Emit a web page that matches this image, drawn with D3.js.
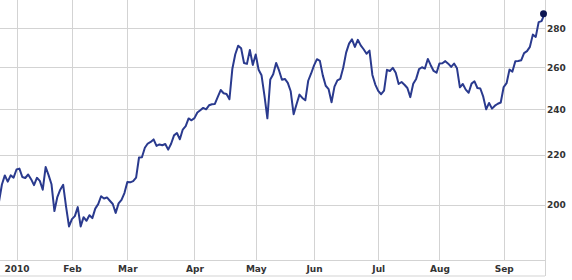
<!DOCTYPE html>
<html>
<head>
<meta charset="utf-8">
<script src="https://cdn.jsdelivr.net/npm/d3@7"></script>
<style>
  html, body { margin: 0; padding: 0; background: #fff; }
  svg { display: block; }
  text { font-family: "DejaVu Sans", Verdana, sans-serif; font-weight: bold; font-size: 9px; fill: #333; }
</style>
</head>
<body>
<div id="chart"></div>
<script>
// Trading days (Dec 2009 – Sep 2010)
const dates = [
  "2009-12-22","2009-12-23","2009-12-24","2009-12-28","2009-12-29","2009-12-30","2009-12-31",
  "2010-01-04","2010-01-05","2010-01-06","2010-01-07","2010-01-08","2010-01-11","2010-01-12","2010-01-13","2010-01-14","2010-01-15",
  "2010-01-19","2010-01-20","2010-01-21","2010-01-22","2010-01-25","2010-01-26","2010-01-27","2010-01-28","2010-01-29",
  "2010-02-01","2010-02-02","2010-02-03","2010-02-04","2010-02-05","2010-02-08","2010-02-09","2010-02-10","2010-02-11","2010-02-12",
  "2010-02-16","2010-02-17","2010-02-18","2010-02-19","2010-02-22","2010-02-23","2010-02-24","2010-02-25","2010-02-26",
  "2010-03-01","2010-03-02","2010-03-03","2010-03-04","2010-03-05","2010-03-08","2010-03-09","2010-03-10","2010-03-11","2010-03-12",
  "2010-03-15","2010-03-16","2010-03-17","2010-03-18","2010-03-19","2010-03-22","2010-03-23","2010-03-24","2010-03-25","2010-03-26",
  "2010-03-29","2010-03-30","2010-03-31",
  "2010-04-01","2010-04-05","2010-04-06","2010-04-07","2010-04-08","2010-04-09","2010-04-12","2010-04-13","2010-04-14","2010-04-15",
  "2010-04-16","2010-04-19","2010-04-20","2010-04-21","2010-04-22","2010-04-23","2010-04-26","2010-04-27","2010-04-28","2010-04-29","2010-04-30",
  "2010-05-03","2010-05-04","2010-05-05","2010-05-06","2010-05-07","2010-05-10","2010-05-11","2010-05-12","2010-05-13","2010-05-14",
  "2010-05-17","2010-05-18","2010-05-19","2010-05-20","2010-05-21","2010-05-24","2010-05-25","2010-05-26","2010-05-27","2010-05-28",
  "2010-06-01","2010-06-02","2010-06-03","2010-06-04","2010-06-07","2010-06-08","2010-06-09","2010-06-10","2010-06-11","2010-06-14",
  "2010-06-15","2010-06-16","2010-06-17","2010-06-18","2010-06-21","2010-06-22","2010-06-23","2010-06-24","2010-06-25","2010-06-28",
  "2010-06-29","2010-06-30",
  "2010-07-01","2010-07-02","2010-07-06","2010-07-07","2010-07-08","2010-07-09","2010-07-12","2010-07-13","2010-07-14","2010-07-15",
  "2010-07-16","2010-07-19","2010-07-20","2010-07-21","2010-07-22","2010-07-23","2010-07-26","2010-07-27","2010-07-28","2010-07-29","2010-07-30",
  "2010-08-02","2010-08-03","2010-08-04","2010-08-05","2010-08-06","2010-08-09","2010-08-10","2010-08-11","2010-08-12","2010-08-13",
  "2010-08-16","2010-08-17","2010-08-18","2010-08-19","2010-08-20","2010-08-23","2010-08-24","2010-08-25","2010-08-26","2010-08-27",
  "2010-08-30","2010-08-31",
  "2010-09-01","2010-09-02","2010-09-03","2010-09-07","2010-09-08","2010-09-09","2010-09-10","2010-09-13","2010-09-14","2010-09-15",
  "2010-09-16","2010-09-17","2010-09-20","2010-09-21","2010-09-22"
];

const closes = [
  200.36,201.29,208.00,211.61,209.10,211.64,210.73,
  214.01,214.38,210.97,210.58,211.98,210.11,207.72,210.65,209.43,205.93,
  215.04,211.73,208.07,197.75,203.08,205.94,207.88,199.29,192.06,
  194.73,195.86,199.23,192.05,195.46,194.12,196.19,195.12,198.67,200.38,
  203.40,202.55,202.93,201.67,200.42,197.06,200.66,202.00,204.62,
  208.99,208.85,209.33,210.71,218.95,219.08,223.02,224.84,225.50,226.60,
  223.84,224.45,224.12,224.65,222.25,224.75,228.36,229.37,226.65,230.90,
  232.39,235.84,235.00,
  235.97,238.49,239.54,240.60,239.95,241.79,242.29,242.43,245.69,248.92,
  247.40,247.07,244.59,259.22,266.47,270.83,269.50,262.04,261.60,268.64,261.09,
  266.35,258.68,255.98,246.25,235.86,253.99,256.52,262.09,258.36,253.82,
  254.22,252.36,248.34,237.76,242.32,246.76,245.22,244.11,253.35,256.88,
  260.83,263.95,263.12,255.96,250.94,249.33,243.20,250.51,253.51,254.28,
  259.69,267.25,271.87,274.07,270.17,273.85,270.97,269.00,266.70,268.30,
  256.17,251.53,
  248.48,246.94,248.63,258.66,258.09,259.62,257.28,251.80,252.73,251.45,
  249.90,245.58,251.89,254.24,259.02,259.94,259.28,264.08,260.96,258.11,257.25,
  261.85,261.93,262.98,261.70,260.09,261.75,259.41,250.19,251.79,249.10,
  247.64,251.97,253.07,249.88,249.64,245.80,239.93,242.89,240.28,241.62,
  242.50,243.10,
  250.33,252.17,258.77,257.81,262.92,263.07,263.41,267.04,268.06,270.22,
  276.57,275.37,283.23,283.77,287.75
];

const monthTickDates = ["2010-01-04","2010-02-01","2010-03-01","2010-04-01","2010-05-03","2010-06-01","2010-07-01","2010-08-02","2010-09-01"];
const monthLabels = ["2010","Feb","Mar","Apr","May","Jun","Jul","Aug","Sep"];
const yTicks = [200, 220, 240, 260, 280];

// ---- layout ----
const W = 572, H = 280;
const plotRight = 545, plotBottom = 260.5, bandBottom = 276;

const svg = d3.select("#chart").append("svg").attr("width", W).attr("height", H);
svg.append("rect").attr("width", W).attr("height", H).attr("fill", "#fff");

const idx = d => dates.indexOf(d);
const x = d3.scaleLinear()
  .domain([idx("2010-01-04"), idx("2010-09-22")])
  .range([16.5, 544.5]);
const y = d3.scaleLog()
  .domain([180, 295.4])
  .range([plotBottom, 0]);

const monthIdx = monthTickDates.map(idx);
const grid = "#d3d3d3";

// horizontal gridlines
svg.append("g").selectAll("line").data(yTicks).join("line")
  .attr("x1", 0).attr("x2", plotRight)
  .attr("y1", d => Math.round(y(d)) + 0.5).attr("y2", d => Math.round(y(d)) + 0.5)
  .attr("stroke", grid).attr("stroke-width", 1);

// vertical gridlines
svg.append("g").selectAll("line").data(monthIdx).join("line")
  .attr("x1", d => Math.round(x(d)) + 0.5).attr("x2", d => Math.round(x(d)) + 0.5)
  .attr("y1", 0).attr("y2", plotBottom)
  .attr("stroke", grid).attr("stroke-width", 1);

// axis band borders
svg.append("line").attr("x1", 0).attr("x2", plotRight).attr("y1", plotBottom).attr("y2", plotBottom)
  .attr("stroke", grid);
svg.append("line").attr("x1", 0).attr("x2", plotRight).attr("y1", bandBottom).attr("y2", bandBottom)
  .attr("stroke", grid);
svg.append("line").attr("x1", plotRight + 0.5).attr("x2", plotRight + 0.5).attr("y1", 0).attr("y2", bandBottom)
  .attr("stroke", grid);

// x axis labels
const xAxis = d3.axisBottom(x).tickValues(monthIdx)
  .tickFormat((d, i) => monthLabels[i]).tickSize(0).tickPadding(0);
const gx = svg.append("g").attr("transform", `translate(0,${plotBottom})`).call(xAxis);
gx.select(".domain").remove();
gx.selectAll("text").attr("dy", null).attr("y", 11).attr("fill", "#333")
  .style("font-family", '"DejaVu Sans", Verdana, sans-serif').style("font-weight", "bold").style("font-size", "9px");

// y axis labels
const yAxis = d3.axisRight(y).tickValues(yTicks).tickFormat(d3.format("d")).tickSize(0).tickPadding(0);
const gy = svg.append("g").attr("transform", `translate(${plotRight + 2},0)`).call(yAxis);
gy.select(".domain").remove();
gy.selectAll("text").attr("fill", "#333")
  .style("font-family", '"DejaVu Sans", Verdana, sans-serif').style("font-weight", "bold").style("font-size", "9px");

// clip
svg.append("clipPath").attr("id", "plotclip").append("rect")
  .attr("x", 0).attr("y", 0).attr("width", plotRight).attr("height", plotBottom);

const data = dates.map((d, i) => ({ i, v: closes[i] }));
const line = d3.line().x(d => x(d.i)).y(d => y(d.v));

svg.append("path").datum(data)
  .attr("clip-path", "url(#plotclip)")
  .attr("fill", "none")
  .attr("stroke", "#2a3a8e")
  .attr("stroke-width", 2)
  .attr("stroke-linejoin", "round")
  .attr("d", line);

const last = data[data.length - 1];
svg.append("circle")
  .attr("cx", x(last.i) - 1).attr("cy", y(last.v))
  .attr("r", 3.5).attr("fill", "#0d1652");
</script>
</body>
</html>
